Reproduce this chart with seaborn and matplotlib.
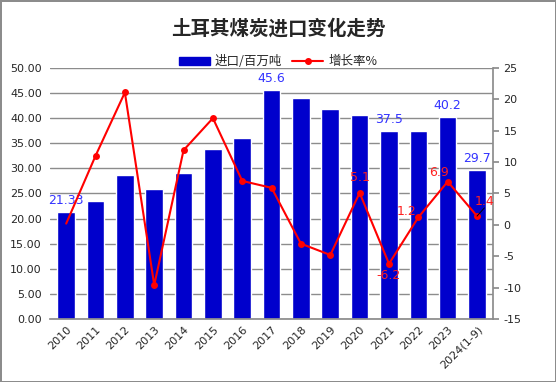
import numpy as np
import matplotlib.pyplot as plt
import matplotlib
import pandas as pd
import seaborn as sns
from matplotlib.patches import Patch
from matplotlib.lines import Line2D

years = ['2010', '2011', '2012', '2013', '2014', '2015', '2016', '2017',
         '2018', '2019', '2020', '2021', '2022', '2023', '2024(1-9)']
imports = [21.33, 23.5, 28.6, 25.8, 29.0, 33.8, 36.1, 45.6,
           44.0, 41.8, 40.6, 37.5, 37.5, 40.2, 29.7]
growth = [0.2, 11.0, 21.1, -9.6, 11.9, 17.0, 7.0, 5.9,
          -3.0, -4.8, 5.1, -6.2, 1.2, 6.9, 1.4]

bar_labels = {0: '21.33', 7: '45.6', 11: '37.5', 13: '40.2', 14: '29.7'}
line_labels = {10: '5.1', 11: '-6.2', 12: '1.2', 13: '6.9', 14: '1.4'}

sns.set_theme(style='white')
plt.rcParams['font.family'] = ['DejaVu Sans', 'Noto Sans CJK SC']
plt.rcParams['axes.unicode_minus'] = False

df = pd.DataFrame({'year': years, 'imports': imports, 'growth': growth})
df['pos'] = np.arange(len(years))

fig = plt.figure(figsize=(5.56, 3.82), dpi=100, edgecolor='#8c8c8c', linewidth=1.0)
ax = fig.add_axes([0.09, 0.165, 0.797, 0.657])

sns.barplot(data=df, x='year', y='imports', color='#0000cc', saturation=1,
            width=0.6, ax=ax)
ax.set_ylim(0, 50)
ax.set_yticks(np.arange(0, 50.1, 5))
ax.set_yticklabels(['%.2f' % v for v in np.arange(0, 50.1, 5)], fontsize=8)
ax.yaxis.grid(True, color='#8c8c8c', linewidth=1)
ax.set_axisbelow(True)
ax.set_xlabel('')
ax.set_ylabel('')
ax.set_xticks(range(len(years)))
ax.set_xticklabels(years, rotation=45, ha='right', rotation_mode='anchor', fontsize=8)
ax.tick_params(axis='y', length=0, pad=6)
ax.tick_params(axis='x', length=0, pad=4)
for s in ['top', 'left', 'right']:
    ax.spines[s].set_visible(False)
ax.spines['bottom'].set_color('#8c8c8c')
ax.set_xlim(-0.55, len(years) - 0.45)

for i, t in bar_labels.items():
    ax.text(i, imports[i] + 1.0, t, color='#3333ff', ha='center', va='bottom', fontsize=9)

ax2 = ax.twinx()
sns.lineplot(data=df, x='pos', y='growth', ax=ax2, color='red', linewidth=1.5,
             marker='o', markersize=5, markeredgewidth=0, markevery=list(range(1, len(years))))
ax2.set_ylim(-15, 25)
ax2.set_yticks(np.arange(-15, 26, 5))
ax2.tick_params(axis='y', labelsize=8, length=4, color='#8c8c8c', direction='out', right=True)
ax2.set_ylabel('')
ax2.set_xlabel('')
for s in ['top', 'left', 'bottom']:
    ax2.spines[s].set_visible(False)
ax2.spines['right'].set_color('#8c8c8c')
ax2.set_xlim(-0.55, len(years) - 0.45)

offsets = {10: (0, 2.4), 11: (0, -1.9), 12: (-0.4, 1.0), 13: (-0.3, 1.4), 14: (0.25, 2.4)}
for i, t in line_labels.items():
    dx, dy = offsets[i]
    ax2.text(i + dx, growth[i] + dy, t, color='#ff2020', ha='center', va='center', fontsize=9)
ax2.plot([14, 14.25], [growth[14], growth[14] + 1.3], color='black', linewidth=0.7)

fig.text(0.5, 0.925, '土耳其煤炭进口变化走势', ha='center', va='center',
         fontsize=14, fontweight='bold', family=['Noto Sans CJK SC'])

handles = [Patch(color='#0000cc'),
           Line2D([0], [0], color='red', marker='o', markersize=4, linewidth=1.5)]
fig.legend(handles, ['进口/百万吨', '增长率%'], loc='center', bbox_to_anchor=(0.5, 0.838),
           ncol=2, frameon=False, fontsize=9, handlelength=2.5, columnspacing=0.8,
           handletextpad=0.4, prop={'family': ['Noto Sans CJK SC', 'DejaVu Sans'], 'size': 9})

fig.savefig('out.png', dpi=100, edgecolor=fig.get_edgecolor())
